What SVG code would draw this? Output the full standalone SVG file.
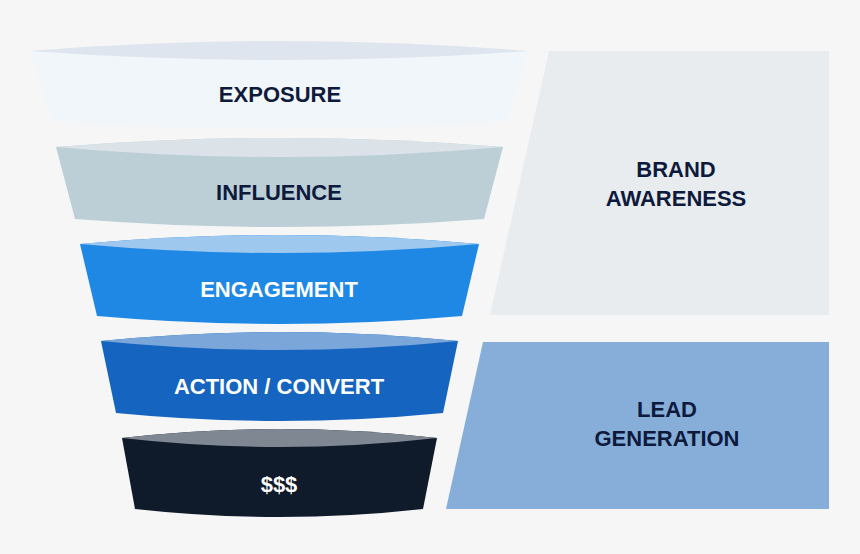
<svg xmlns="http://www.w3.org/2000/svg" width="860" height="554" viewBox="0 0 860 554">
<style>
.t{font-family:"Liberation Sans",Arial,sans-serif;font-weight:700;font-size:22px;text-anchor:middle}
.dark{fill:#0e1a3c}
.light{fill:#ffffff}
</style>
<rect x="0" y="0" width="860" height="554" fill="#f6f6f6"/>
<g id="brand-awareness">
<polygon points="549,51 829,51 829,315 490,315" fill="#e8ecef"/>
<text class="t dark" x="676" y="177">BRAND</text>
<text class="t dark" x="676" y="206">AWARENESS</text>
</g>
<g id="lead-generation">
<polygon points="483,342 829,342 829,509 446,509" fill="#86aed9"/>
<text class="t dark" x="667" y="417">LEAD</text>
<text class="t dark" x="667" y="446">GENERATION</text>
</g>
<g id="exposure">
<path d="M30,51 L52,121 Q279,137 508,121 L528,51 Q279,31 30,51 Z" fill="#f1f6fa"/>
<path d="M30,51 Q279,31 528,51 Q279,69 30,51 Z" fill="#dfe5ee"/>
<text class="t dark" x="280" y="102">EXPOSURE</text>
</g>
<g id="influence">
<path d="M56,147 L75,219 Q279,235 484,219 L503,147 Q279,129 56,147 Z" fill="#bccfd6"/>
<path d="M56,147 Q279,129 503,147 Q279,167 56,147 Z" fill="#dbe3e8"/>
<text class="t dark" x="279" y="200">INFLUENCE</text>
</g>
<g id="engagement">
<path d="M80,244 L97,316 Q279,332 462,316 L479,244 Q279,226 80,244 Z" fill="#1f88e5"/>
<path d="M80,244 Q279,226 479,244 Q279,262 80,244 Z" fill="#9fc8ef"/>
<text class="t light" x="279" y="297">ENGAGEMENT</text>
</g>
<g id="action-convert">
<path d="M101,341 L116,413 Q279,429 443,413 L458,341 Q279,323 101,341 Z" fill="#1565c0"/>
<path d="M101,341 Q279,323 458,341 Q279,359 101,341 Z" fill="#7ba6da"/>
<text class="t light" x="279" y="394">ACTION / CONVERT</text>
</g>
<g id="money">
<path d="M122,438 L135,509 Q279,525 423,509 L437,438 Q279,420 122,438 Z" fill="#0f1a2b"/>
<path d="M122,438 Q279,420 437,438 Q279,456 122,438 Z" fill="#7f8792"/>
<text class="t light" x="279" y="492">$$$</text>
</g>
<g id="connectors"></g>
</svg>
